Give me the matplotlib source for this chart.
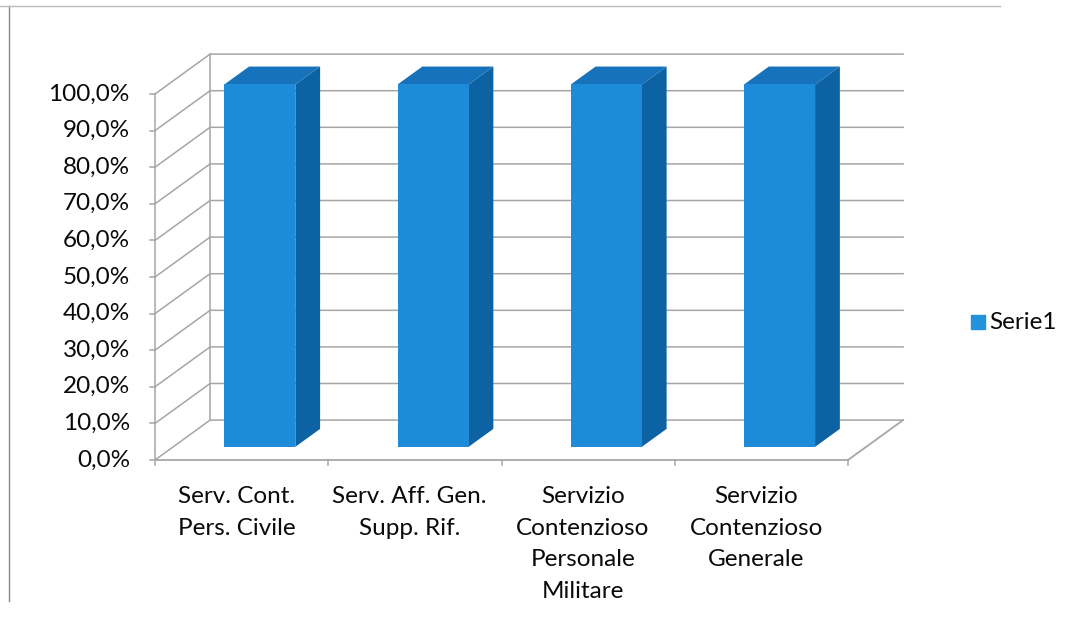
import matplotlib.pyplot as plt
from matplotlib.patches import Polygon

categories = ['Serv. Cont.\nPers. Civile', 'Serv. Aff. Gen.\nSupp. Rif.',
              'Servizio\nContenzioso\nPersonale\nMilitare', 'Servizio\nContenzioso\nGenerale']
values = [1.0, 1.0, 1.0, 1.0]
yticks = [i / 10 for i in range(11)]
ytick_labels = ['%.1f%%' % (t * 100) for t in yticks]
ytick_labels = [s.replace('.', ',') for s in ytick_labels]
series_name = 'Serie1'

# fake 3D: depth z in [0, 1] moves right and up
DX, DY = 0.318, 0.109
def proj(x, y, z):
    return x + z * DX, y + z * DY

plt.rcParams['font.family'] = ['Lato', 'DejaVu Sans']
fig = plt.figure(figsize=(10.75, 6.26), dpi=100)
ax = fig.add_axes([0, 0, 1, 1])
ax.set_xlim(-155 / 173.25, (1075 - 155) / 173.25)
ax.set_ylim((460 - 626) / 366, 460 / 366)
ax.axis('off')

grid_c = '#A6A6A6'
n = len(categories)

# back wall + side wall gridlines
for t in yticks:
    x0, y0 = proj(0, t, 0)
    x1, y1 = proj(0, t, 1)
    x2, y2 = proj(n, t, 1)
    ax.plot([x0, x1, x2], [y0, y1, y2], color=grid_c, lw=1.1, zorder=1)
    ax.plot([x0 - 0.03, x0], [y0, y0], color=grid_c, lw=1.1, zorder=1)
# verticals
for z in (0, 1):
    xa, ya = proj(0, 0, z)
    xb, yb = proj(0, 1, z)
    ax.plot([xa, xb], [ya, yb], color=grid_c, lw=1.1, zorder=1)
# floor
fx = [proj(0, 0, 0), proj(n, 0, 0), proj(n, 0, 1)]
ax.plot([p[0] for p in fx], [p[1] for p in fx], color=grid_c, lw=1.3, zorder=1)
for i in range(n + 1):
    ax.plot([i, i], [0, -0.015], color=grid_c, lw=1.1, zorder=1)

# bars
w, z0, z1 = 0.41, 0.33, 0.78
front_c, side_c, top_c = '#1D8BD8', '#0C62A3', '#1672BA'
for i, v in enumerate(values):
    xl = i + 0.5 - w / 2
    xr = i + 0.5 + w / 2
    top_v = v * 0.99
    front = [proj(xl, 0, z0), proj(xr, 0, z0), proj(xr, top_v, z0), proj(xl, top_v, z0)]
    side = [proj(xr, 0, z0), proj(xr, 0, z1), proj(xr, top_v, z1), proj(xr, top_v, z0)]
    top = [proj(xl, top_v, z0), proj(xr, top_v, z0), proj(xr, top_v, z1), proj(xl, top_v, z1)]
    ax.add_patch(Polygon(side, closed=True, fc=side_c, ec='none', zorder=3))
    ax.add_patch(Polygon(top, closed=True, fc=top_c, ec='none', zorder=3))
    ax.add_patch(Polygon(front, closed=True, fc=front_c, ec='none', zorder=4))

# tick labels
txt_c = '#0a0a0a'
for t, lab in zip(yticks, ytick_labels):
    ax.text(-0.145, t, lab, ha='right', va='center', fontsize=17.5, color=txt_c)
for i, lab in enumerate(categories):
    ax.text(i + 0.47, -0.072, lab, ha='center', va='top', fontsize=17.5,
            color=txt_c, linespacing=1.62)

# legend
lx = (978 - 155) / 173.25
ly = (460 - 322) / 366
ax.plot([lx], [ly], marker='s', ms=9.5, color='#2292DD', ls='none')
ax.text(lx + 0.065, ly, series_name, ha='left', va='center', fontsize=17.5, color=txt_c)

# scanned frame edges
fig.add_artist(plt.Line2D([9 / 1075, 9 / 1075], [0.04, 0.99], color='#888888', lw=1))
fig.add_artist(plt.Line2D([0.0, 0.93], [0.99, 0.99], color='#bbbbbb', lw=1))

fig.savefig('out.png', dpi=100)
